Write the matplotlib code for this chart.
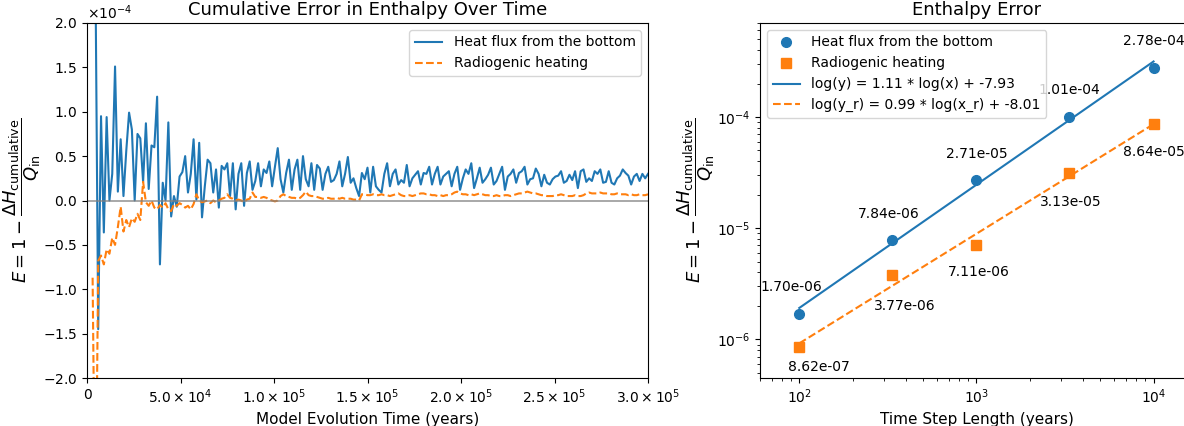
import numpy as np
import matplotlib
matplotlib.use('Agg')
import matplotlib.pyplot as plt
from matplotlib.ticker import FuncFormatter, ScalarFormatter

nan = float('nan')

# model time grid (years), one sample every 1500 years
time_years = np.arange(0, 300001, 1500)

# cumulative error, in units of 1e-4
err_flux = [
    nan, nan, 6.0, 2.6, -1.45, 0.95, -0.36, 0.94, 0.0, 0.3,
    1.51, 0.1, 0.69, 0.05, 0.56, 0.99, 0.8, 0.0, 0.75, 0.7,
    0.21, 0.87, 0.13, 0.62, 0.6, 1.17, -0.72, 0.2, 0.0, 0.88,
    -0.18, 0.05, -0.07, 0.27, 0.32, 0.5, 0.09, 0.3, 0.69, 0.01,
    0.65, -0.19, 0.16, 0.46, 0.42, 0.09, 0.35, -0.08, 0.39, 0.35,
    0.42, 0.05, 0.42, -0.1, 0.3, 0.42, -0.06, 0.31, 0.44, 0.12,
    0.22, 0.42, 0.16, 0.35, 0.31, 0.44, 0.16, 0.38, 0.59, 0.24,
    0.09, 0.31, 0.46, 0.12, 0.35, 0.46, 0.12, 0.5, 0.24, 0.16,
    0.42, 0.12, 0.4, 0.36, 0.12, 0.3, 0.38, 0.21, 0.23, 0.3,
    0.44, 0.16, 0.3, 0.49, 0.2, 0.25, 0.14, 0.05, 0.31, 0.24,
    0.37, 0.09, 0.38, 0.16, 0.12, 0.09, 0.3, 0.42, 0.16, 0.3,
    0.35, 0.18, 0.23, 0.2, 0.4, 0.16, 0.25, 0.29, 0.33, 0.18,
    0.31, 0.3, 0.38, 0.18, 0.3, 0.38, 0.18, 0.27, 0.3, 0.33,
    0.16, 0.3, 0.38, 0.12, 0.25, 0.35, 0.3, 0.42, 0.14, 0.25,
    0.37, 0.2, 0.24, 0.29, 0.37, 0.18, 0.22, 0.3, 0.38, 0.12,
    0.27, 0.3, 0.35, 0.2, 0.31, 0.33, 0.38, 0.18, 0.24, 0.25,
    0.36, 0.3, 0.16, 0.29, 0.2, 0.18, 0.24, 0.27, 0.28, 0.33,
    0.2, 0.22, 0.29, 0.23, 0.33, 0.14, 0.33, 0.35, 0.21, 0.25,
    0.22, 0.33, 0.3, 0.35, 0.2, 0.21, 0.33, 0.2, 0.18, 0.25,
    0.28, 0.35, 0.31, 0.28, 0.18, 0.27, 0.3, 0.22, 0.3, 0.25,
    0.3,
]
err_radio = [
    nan, nan, -0.87, -4.0, -0.68, -0.62, -0.72, -0.55, -0.6, -0.42,
    -0.5, -0.3, -0.07, -0.35, -0.22, -0.3, -0.2, -0.24, -0.15, -0.22,
    0.21, -0.02, -0.06, 0.0, -0.08, -0.1, -0.05, -0.08, -0.03, -0.1,
    -0.12, -0.04, -0.06, -0.03, -0.05, -0.08, -0.06, -0.1, -0.04, 0.07,
    0.0, -0.02, -0.01, 0.0, -0.03, 0.0, -0.02, 0.0, 0.02, 0.03,
    0.07, 0.03, 0.02, 0.0, 0.01, 0.0, -0.02, 0.01, 0.02, 0.09,
    0.04, 0.04, 0.03, 0.04, 0.03, 0.01, 0.0, -0.01, 0.0, 0.05,
    0.07, 0.05, 0.04, 0.03, 0.03, 0.02, 0.03, 0.06, 0.1, 0.06,
    0.05, 0.05, 0.04, 0.03, 0.02, 0.02, 0.03, 0.02, 0.02, 0.03,
    0.02, 0.03, 0.02, 0.02, 0.02, 0.01, 0.01, 0.0, 0.07, 0.07,
    0.06, 0.06, 0.07, 0.06, 0.06, 0.07, 0.06, 0.06, 0.05, 0.06,
    0.07, 0.08, 0.06, 0.05, 0.05, 0.06, 0.05, 0.06, 0.07, 0.08,
    0.08, 0.07, 0.07, 0.06, 0.06, 0.05, 0.06, 0.05, 0.06, 0.06,
    0.07, 0.09, 0.1, 0.08, 0.07, 0.07, 0.06, 0.07, 0.06, 0.07,
    0.08, 0.07, 0.06, 0.06, 0.05, 0.05, 0.06, 0.05, 0.05, 0.06,
    0.06, 0.05, 0.06, 0.07, 0.08, 0.08, 0.09, 0.1, 0.09, 0.08,
    0.08, 0.07, 0.06, 0.06, 0.05, 0.05, 0.05, 0.06, 0.06, 0.07,
    0.06, 0.05, 0.05, 0.05, 0.06, 0.05, 0.05, 0.06, 0.08, 0.09,
    0.08, 0.08, 0.08, 0.09, 0.08, 0.08, 0.08, 0.07, 0.07, 0.08,
    0.07, 0.07, 0.07, 0.06, 0.07, 0.06, 0.06, 0.07, 0.06, 0.06,
    0.07,
]

# enthalpy error vs time step length
dt_years = [100, 333.33, 1000, 3333.33, 10000]
final_err_flux = [1.70e-06, 7.84e-06, 2.71e-05, 1.01e-04, 2.78e-04]
final_err_radio = [8.62e-07, 3.77e-06, 7.11e-06, 3.13e-05, 8.64e-05]

# label offsets in points (dx, dy)
flux_label_off = [(-6, 19), (-2, 19), (0, 19), (0, 19), (0, 19)]
radio_label_off = [(14, -15), (9, -22), (2, -20), (1, -21), (0, -20)]

ylab = r'$E = 1 - \dfrac{\Delta H_{\mathrm{cumulative}}}{Q_{\mathrm{in}}}$'

fig = plt.figure(figsize=(11.84, 4.26), dpi=100)
ax1 = fig.add_axes([87/1184, 48/426, 561/1184, 355/426])
ax2 = fig.add_axes([760/1184, 48/426, 433/1184, 355/426])

# left: time series
ax1.plot(time_years, np.array(err_flux) * 1e-4, color='tab:blue', lw=1.5, label='Heat flux from the bottom')
ax1.plot(time_years, np.array(err_radio) * 1e-4, color='tab:orange', lw=1.5, ls='--', label='Radiogenic heating')
ax1.axhline(0, color='grey', lw=1.2, alpha=0.8)
ax1.set_xlim(0, 3e5)
ax1.set_ylim(-2e-4, 2e-4)
sf = ScalarFormatter(useMathText=True)
sf.set_powerlimits((-3, 3))
ax1.yaxis.set_major_formatter(sf)


def sci_fmt(v, pos):
    if v == 0:
        return '0'
    e = int(np.floor(np.log10(abs(v))))
    return r'$%.1f\times10^{%d}$' % (v / 10**e, e)


ax1.xaxis.set_major_formatter(FuncFormatter(sci_fmt))
ax1.set_xlabel('Model Evolution Time (years)', fontsize=11)
ax1.set_ylabel(ylab, fontsize=13)
ax1.yaxis.set_label_coords(-0.078, 0.5)
ax1.set_title('Cumulative Error in Enthalpy Over Time', fontsize=13)
ax1.legend(loc='upper right', fontsize=10)

# right: convergence
cf = np.polyfit(np.log10(dt_years), np.log10(final_err_flux), 1)
cr = np.polyfit(np.log10(dt_years), np.log10(final_err_radio), 1)
xs = np.array([dt_years[0], dt_years[-1]])

ax2.plot(dt_years, final_err_flux, 'o', color='tab:blue', ms=7, label='Heat flux from the bottom')
ax2.plot(dt_years, final_err_radio, 's', color='tab:orange', ms=7, label='Radiogenic heating')
ax2.plot(xs, 10**np.polyval(cf, np.log10(xs)), '-', color='tab:blue', lw=1.5,
         label='log(y) = %.2f * log(x) + %.2f' % (cf[0], cf[1]))
ax2.plot(xs, 10**np.polyval(cr, np.log10(xs)), '--', color='tab:orange', lw=1.5,
         label='log(y_r) = %.2f * log(x_r) + %.2f' % (cr[0], cr[1]))
for x, y, off in zip(dt_years, final_err_flux, flux_label_off):
    ax2.annotate('%.2e' % y, (x, y), xytext=off, textcoords='offset points', ha='center', va='center', fontsize=10)
for x, y, off in zip(dt_years, final_err_radio, radio_label_off):
    ax2.annotate('%.2e' % y, (x, y), xytext=off, textcoords='offset points', ha='center', va='center', fontsize=10)
ax2.set_xscale('log')
ax2.set_yscale('log')
ax2.set_xlim(60, 16700)
ax2.set_ylim(4.5e-7, 7e-4)
ax2.set_xlabel('Time Step Length (years)', fontsize=11)
ax2.set_ylabel(ylab, fontsize=13)
ax2.yaxis.set_label_coords(-0.1, 0.5)
ax2.set_title('Enthalpy Error', fontsize=13)
ax2.legend(loc='upper left', fontsize=10)

fig.savefig('out.png', dpi=100)
